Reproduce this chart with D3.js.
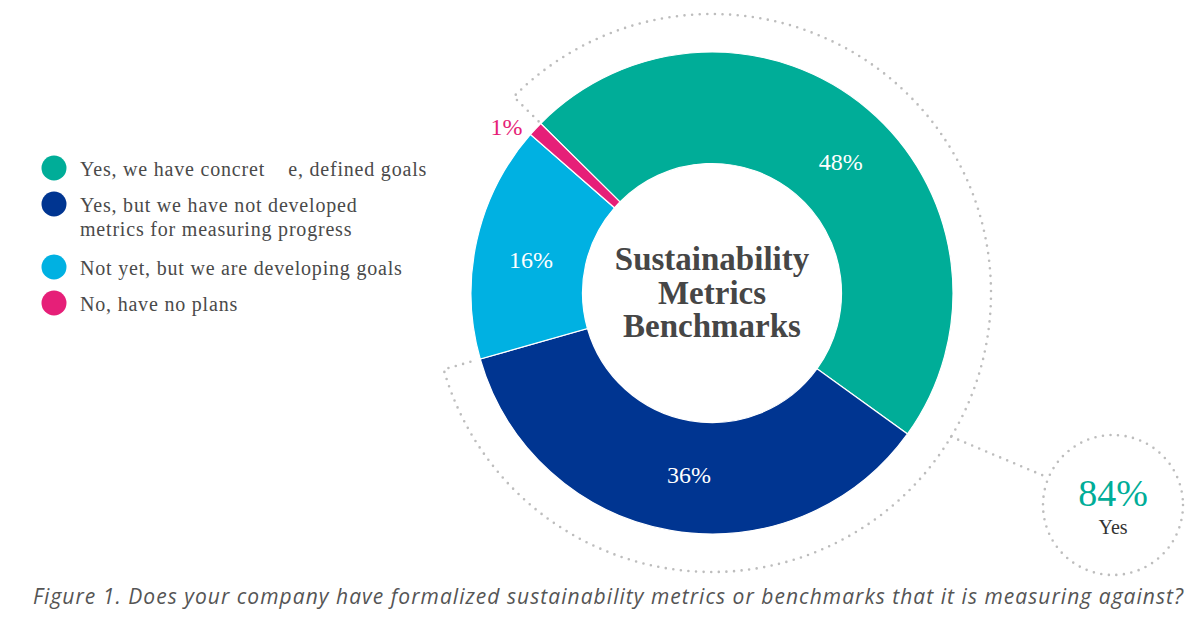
<!DOCTYPE html>
<html>
<head>
<meta charset="utf-8">
<script src="https://cdn.jsdelivr.net/npm/d3@7"></script>
<style>
  body { margin: 0; background: #fff; }
  svg text { white-space: pre; }
</style>
</head>
<body>
<div id="grafico"></div>
<script>
// Dados do gráfico
const categorias = [
    "Yes, we have concret    e, defined goals",
    "Yes, but we have not developed\nmetrics for measuring progress",
    "Not yet, but we are developing goals",
    "No, have no plans"
];
const valores = [48, 36, 16, 1];
const rotulos = ["48%", "36%", "16%", "1%"];
const cores = ["#00ad98", "#003591", "#00b1e2", "#e61f78"];
const tituloCentro = ["Sustainability", "Metrics", "Benchmarks"];
const destaqueValor = "84%";
const destaqueTexto = "Yes";
const indicesSim = [0, 1]; // fatias somadas no destaque "84% Yes"
const legendaFigura = "Figure 1. Does your company have formalized sustainability metrics or benchmarks that it is measuring against?";

function desenharGrafico() {
    const width = 1200, height = 617;
    const cx = 712, cy = 293;
    const raioExterno = 241, raioInterno = 129.5, raioPontilhado = 279;
    const inicio = -45.3 * Math.PI / 180;
    const serif = "'Liberation Serif', 'Times New Roman', serif";
    const grau = Math.PI / 180;

    const svg = d3.select("#grafico").append("svg")
        .attr("width", width)
        .attr("height", height);

    const g = svg.append("g").attr("transform", `translate(${cx},${cy})`);

    // 1. Fatias da rosca
    const pie = d3.pie().sort(null).value(d => d)
        .startAngle(inicio).endAngle(inicio + 2 * Math.PI);
    const fatias = pie(valores);
    const arco = d3.arc().innerRadius(raioInterno).outerRadius(raioExterno);

    g.selectAll(".fatia")
        .data(fatias)
        .enter().append("path")
        .attr("class", "fatia")
        .attr("d", arco)
        .attr("fill", (d, i) => cores[i])
        .attr("stroke", "#fff")
        .attr("stroke-width", 1.2);

    // ponto em coordenadas polares (ângulo a partir das 12h, sentido horário)
    const polar = (a, r) => [r * Math.sin(a), -r * Math.cos(a)];

    // 2. Rótulos de porcentagem (pequeno ajuste de ângulo como no original)
    const ajusteAngulo = [4.2, -2.8, -2.2, -4];
    g.selectAll(".rotulo")
        .data(fatias)
        .enter().append("text")
        .attr("class", "rotulo")
        .attr("transform", (d, i) => {
            const meio = (d.startAngle + d.endAngle) / 2 + ajusteAngulo[i] * grau;
            // fatia pequena: rótulo fora da rosca
            const r = d.data < 5 ? 264 : 184;
            return `translate(${polar(meio, r)})`;
        })
        .attr("dy", "0.33em")
        .attr("text-anchor", "middle")
        .attr("font-family", serif)
        .attr("font-size", 24)
        .attr("fill", d => d.data < 5 ? cores[3] : "#fff")
        .text((d, i) => rotulos[i]);

    // 3. Título no centro
    g.selectAll(".titulo")
        .data(tituloCentro)
        .enter().append("text")
        .attr("class", "titulo")
        .attr("x", 0)
        .attr("y", (d, i) => -23 + i * 33.5)
        .attr("text-anchor", "middle")
        .attr("font-family", serif)
        .attr("font-weight", "bold")
        .attr("font-size", 33)
        .attr("fill", "#464646")
        .text(d => d);

    // 4. Colchete pontilhado em volta das fatias "Yes"
    const a0 = fatias[indicesSim[0]].startAngle;
    const a1 = fatias[indicesSim[indicesSim.length - 1]].endAngle;
    const caminho = d3.path();
    caminho.moveTo(...polar(a0, raioExterno + 3));
    caminho.lineTo(...polar(a0, raioPontilhado));
    caminho.arc(0, 0, raioPontilhado, a0 - Math.PI / 2, a1 - Math.PI / 2);
    caminho.lineTo(...polar(a1, raioExterno + 3));

    const estiloPontos = sel => sel
        .attr("fill", "none")
        .attr("stroke", "#bdbdbd")
        .attr("stroke-width", 2.6)
        .attr("stroke-linecap", "round")
        .attr("stroke-dasharray", "0,7.6");

    g.append("path").attr("d", caminho.toString()).call(estiloPontos);

    // 5. Círculo de destaque (84% Yes)
    const bx = 1113 - cx, by = 505 - cy, br = 70;
    const pInicio = polar(121 * grau, raioPontilhado);
    const dx = bx - pInicio[0], dy = by - pInicio[1];
    const dist = Math.hypot(dx, dy);
    g.append("line")
        .attr("x1", pInicio[0]).attr("y1", pInicio[1])
        .attr("x2", bx - br * dx / dist).attr("y2", by - br * dy / dist)
        .call(estiloPontos);
    g.append("circle")
        .attr("cx", bx).attr("cy", by).attr("r", br)
        .call(estiloPontos);

    const somaSim = d3.sum(indicesSim, i => valores[i]);
    g.append("text")
        .attr("x", bx).attr("y", by + 1)
        .attr("text-anchor", "middle")
        .attr("font-family", serif)
        .attr("font-size", 38)
        .attr("fill", cores[0])
        .text(destaqueValor || somaSim + "%");
    g.append("text")
        .attr("x", bx).attr("y", by + 29)
        .attr("text-anchor", "middle")
        .attr("font-family", serif)
        .attr("font-size", 20)
        .attr("fill", "#333")
        .text(destaqueTexto);

    // 6. Legenda à esquerda
    const leg = svg.append("g").attr("class", "legenda");
    let y = 168;
    categorias.forEach((cat, i) => {
        const linhas = cat.split("\n");
        leg.append("circle")
            .attr("cx", 54).attr("cy", y).attr("r", 12.5)
            .attr("fill", cores[i]);
        const t = leg.append("text")
            .attr("x", 80).attr("y", y + 7.5)
            .attr("font-family", serif)
            .attr("font-size", 20)
            .attr("letter-spacing", 0.8)
            .attr("fill", "#4a4a4a");
        linhas.forEach((l, j) => {
            t.append("tspan").attr("x", 80).attr("dy", j ? 24 : 0).text(l);
        });
        y += 36 + 27 * (linhas.length - 1);
    });

    // 7. Legenda da figura
    svg.append("text")
        .attr("x", 33).attr("y", 604)
        .attr("font-family", "'Open Sans', Lato, sans-serif")
        .attr("font-style", "italic")
        .attr("font-size", 21)
        .attr("textLength", 1150)
        .attr("lengthAdjust", "spacing")
        .attr("fill", "#555")
        .text(legendaFigura);
}

desenharGrafico();
</script>
</body>
</html>
